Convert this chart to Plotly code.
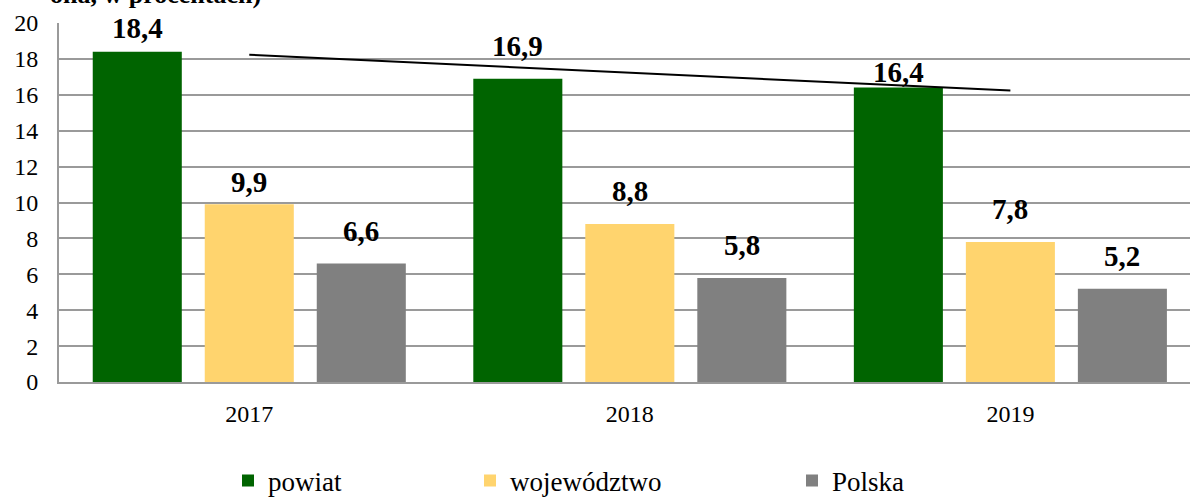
import numpy as np
import plotly.graph_objects as go

years = ["2017", "2018", "2019"]
powiat = [18.4, 16.9, 16.4]
wojewodztwo = [9.9, 8.8, 7.8]
polska = [6.6, 5.8, 5.2]
y_ticks = [0, 2, 4, 6, 8, 10, 12, 14, 16, 18, 20]

def fmt(v):
    return f"{v:.1f}".replace(".", ",")

W, H = 1190, 498
L, R, T, B = 59, 0, 23, 116
pw = W - L - R
ph = H - T - B

serif = "Liberation Serif"
XRANGE = [-0.5, 2.472]
YRANGE = [0, 20]
BARGAP, GROUPGAP = 0.117, 0.205

fig = go.Figure()
series = [
    ("powiat", powiat, "#006400", "legend"),
    ("województwo", wojewodztwo, "#FFD46E", "legend2"),
    ("Polska", polska, "#808080", "legend3"),
]
for name, vals, color, lg in series:
    fig.add_trace(go.Bar(
        x=years, y=vals, name=name, marker_color=color, marker_line_width=0,
        legend=lg, hoverinfo="x+y",
    ))

# linear trend of powiat
xi = np.arange(len(years))
a, b = np.polyfit(xi, powiat, 1)
trend = a * xi + b
fig.add_trace(go.Scatter(
    x=years, y=trend, mode="lines", line=dict(color="black", width=2),
    showlegend=False, hoverinfo="skip", cliponaxis=False,
))

# value labels above bars; a few were nudged closer to their bar in the original
cat_px = pw / (XRANGE[1] - XRANGE[0])
slot_px = cat_px * (1 - BARGAP) / len(series)
LABEL_GAP = 19      # default baseline distance above bar top (px)
label_gap_override = {(0, 0): 10, (1, 0): 8, (0, 2): 2}  # (series, category) -> px
annotations = []
for si, (name, vals, color, lg) in enumerate(series):
    offset = (si - (len(series) - 1) / 2) * slot_px
    for ci, v in enumerate(vals):
        gap = label_gap_override.get((si, ci), LABEL_GAP)
        annotations.append(dict(
            x=ci, y=v, xref="x", yref="y", text=fmt(v), showarrow=False,
            xanchor="center", yanchor="bottom", xshift=offset, yshift=gap - 4,
            font=dict(family=serif, size=29, color="black", weight="bold"),
        ))

def px_to_paper_x(px):
    return (px - L) / pw

def px_to_paper_y(py):
    return (H - B - py) / ph

annotations.append(dict(
    text="ona, w procentach)", xref="paper", yref="paper",
    x=px_to_paper_x(263), y=px_to_paper_y(-6), xanchor="right", yanchor="middle",
    showarrow=False, font=dict(family=serif, size=26, color="black", weight="bold"),
))

leg_common = dict(
    orientation="h", yanchor="middle", xanchor="left",
    font=dict(family=serif, size=27, color="black"),
    bgcolor="rgba(0,0,0,0)", borderwidth=0,
)
fig.update_layout(
    width=W, height=H,
    margin=dict(l=L, r=R, t=T, b=B, pad=0, autoexpand=False),
    plot_bgcolor="white", paper_bgcolor="white",
    barmode="group", bargap=BARGAP, bargroupgap=GROUPGAP,
    legend=dict(x=px_to_paper_x(228), y=px_to_paper_y(481), **leg_common),
    legend2=dict(x=px_to_paper_x(470), y=px_to_paper_y(481), **leg_common),
    legend3=dict(x=px_to_paper_x(792), y=px_to_paper_y(481), **leg_common),
    xaxis=dict(
        type="category", range=XRANGE,
        showgrid=False, showline=True, linecolor="#9A9A9A", linewidth=2,
        ticks="", ticklabelstandoff=9,
        tickfont=dict(family=serif, size=24, color="black"),
    ),
    yaxis=dict(
        range=YRANGE, tickvals=y_ticks, ticktext=[str(v) for v in y_ticks],
        showgrid=True, gridcolor="#9A9A9A", gridwidth=2,
        showline=True, linecolor="#9A9A9A", linewidth=2,
        zeroline=False, ticks="", ticklabelstandoff=14,
        tickfont=dict(family=serif, size=24, color="black"),
    ),
    annotations=annotations,
)

fig.write_html(
    "out.html",
    config={"displayModeBar": False},
    post_script="document.body.style.margin='0';document.body.style.padding='0';",
)
